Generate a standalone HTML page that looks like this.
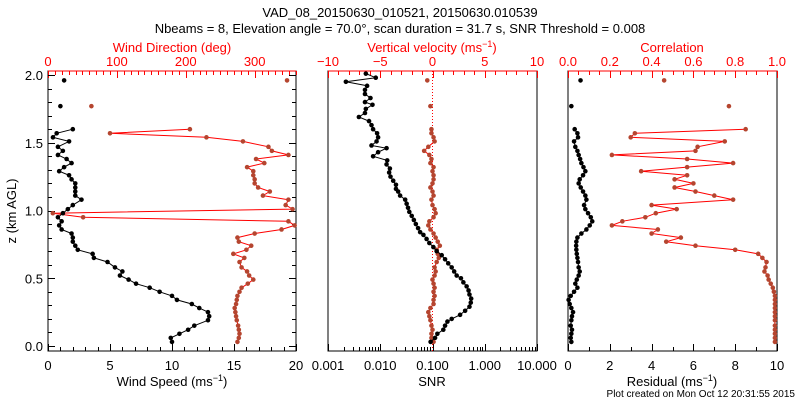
<!DOCTYPE html>
<html><head><meta charset="utf-8">
<style>
body{margin:0;background:#fff;}
svg{display:block;font-family:"Liberation Sans","DejaVu Sans",sans-serif;}
</style></head>
<body>
<svg id="chart" width="800" height="400" viewBox="0 0 800 400">
<text x="400" y="17" font-size="13" text-anchor="middle">VAD_08_20150630_010521, 20150630.010539</text>
<text x="400" y="33" font-size="13" text-anchor="middle">Nbeams = 8, Elevation angle = 70.0°, scan duration = 31.7 s, SNR Threshold = 0.008</text>
<text x="795" y="397" font-size="10" text-anchor="end">Plot created on Mon Oct 12 20:31:55 2015</text>
</svg>
<script>
// ---- data ----
const zA = [0.03,0.06,0.09,0.12,0.15,0.19,0.22,0.25,0.28,0.31,0.34,0.37,0.40,0.43,0.46,0.49,0.52,0.55,0.58,0.62,0.65,0.68,0.71,0.74,0.77,0.80,0.83,0.86,0.89,0.92,0.95,0.98,1.01,1.04,1.08,1.11,1.14,1.17,1.20,1.23,1.26,1.29,1.32,1.35,1.38,1.41,1.44,1.47,1.51,1.54,1.57,1.60];
const zExtra = [1.77,1.96];
const windSpeed = [10.0,9.9,10.6,11.3,11.8,12.9,13.0,12.9,12.2,11.6,10.4,10.0,9.0,8.2,7.1,6.5,5.8,6.0,5.4,4.8,3.7,3.6,2.4,2.2,2.0,2.0,1.9,1.1,0.9,1.1,0.8,1.2,1.6,2.0,2.7,2.2,2.2,2.2,2.2,1.9,1.7,0.9,1.3,1.9,1.5,0.8,1.2,0.8,1.7,0.4,0.7,2.0];
const windSpeedExtra = [1.0,1.3];
const windDir = [275,277,278,277,276,274,273,272,271,273,274,275,278,281,290,298,292,289,281,278,285,269,288,295,277,275,300,339,358,349,51,7,355,345,349,312,322,305,300,300,298,298,289,314,302,349,325,320,283,230,90,206];
const windDirExtra = [63,347];
const zB = [0.03,0.06,0.09,0.12,0.15,0.18,0.20,0.23,0.26,0.29,0.32,0.35,0.38,0.41,0.44,0.47,0.50,0.52,0.55,0.58,0.61,0.64,0.67,0.70,0.73,0.76,0.79,0.82,0.84,0.87,0.90,0.93,0.96,0.99,1.02,1.05,1.08,1.11,1.14,1.16,1.19,1.22,1.25,1.28,1.31,1.34,1.37,1.40,1.43,1.46,1.48,1.51,1.54,1.57,1.60,1.63,1.66,1.69,1.72,1.75,1.78,1.80,1.83,1.86,1.89,1.92,1.95,1.98,2.01];
const snr = [0.092,0.112,0.124,0.161,0.174,0.193,0.233,0.337,0.421,0.51,0.54,0.55,0.51,0.49,0.45,0.39,0.35,0.29,0.26,0.233,0.20,0.174,0.15,0.12,0.104,0.087,0.077,0.067,0.058,0.053,0.048,0.044,0.040,0.036,0.034,0.032,0.030,0.024,0.022,0.020,0.020,0.0177,0.0157,0.0148,0.0153,0.0132,0.0136,0.0073,0.0091,0.0132,0.0068,0.0085,0.0091,0.0087,0.0073,0.0068,0.0061,0.0039,0.0051,0.0053,0.0071,0.0051,0.0065,0.0051,0.0051,0.0056,0.0022,0.0082,0.0053];
const vertVel = [0.1,-0.1,-0.1,0,-0.1,-0.2,-0.3,-0.4,-0.2,0.1,0.1,0.2,0.1,0.2,0.1,0,0.2,0.3,0.2,0.4,0.6,0.5,0.4,0.7,0.5,0.3,0.1,-0.2,-0.4,-0.3,0.1,0.3,0.2,0,-0.1,0.1,0,-0.2,0,0.1,0.1,0,0.1,-0.2,-0.1,-0.3,-0.8,-0.4,0.2,0.1,-0.1,-0.1];
const vertVelExtra = [-0.2,-0.5];
const residual = [0.16,0.13,0.16,0.19,0.13,0.16,0.19,0.24,0.16,0.08,0.03,0.13,0.29,0.45,0.35,0.42,0.51,0.56,0.51,0.48,0.45,0.42,0.40,0.39,0.40,0.45,0.64,0.88,1.04,1.16,1.09,0.96,0.83,0.77,0.88,0.83,0.72,0.61,0.51,0.56,0.72,0.83,0.74,0.64,0.58,0.51,0.45,0.35,0.29,0.48,0.45,0.32];
const residualExtra = [0.16,0.6];
const correlation = [0.99,0.99,0.99,0.99,0.99,0.99,0.99,0.99,0.99,0.99,0.99,0.99,0.985,0.98,0.97,0.96,0.955,0.94,0.945,0.95,0.93,0.91,0.80,0.61,0.47,0.54,0.40,0.43,0.21,0.26,0.37,0.42,0.52,0.40,0.79,0.70,0.61,0.51,0.60,0.51,0.57,0.35,0.57,0.79,0.57,0.21,0.61,0.62,0.75,0.30,0.32,0.85];
const correlationExtra = [0.77,0.46];
const zTicks = ["0.0","0.5","1.0","1.5","2.0"];

// ---- drawing ----
const NS = "http://www.w3.org/2000/svg";
const svg = document.getElementById('chart');
const RED = "#ff0000", MRK = "#b5452f";
const TOP = 71, BOT = 351;
const yOf = z => 346 - z * 135.5;
function mk(tag, attrs, parent) {
  const e = document.createElementNS(NS, tag);
  for (const k in attrs) e.setAttribute(k, attrs[k]);
  (parent || svg).appendChild(e);
  return e;
}
function txt(x, y, s, color, anchor, size) {
  const t = mk('text', {x: x, y: y, 'font-size': size || 13, fill: color || '#000', 'text-anchor': anchor || 'middle'});
  t.textContent = s;
  return t;
}
const panels = [
  {x0: 48, x1: 296, name: 'wind'},
  {x0: 328, x1: 537, name: 'snr'},
  {x0: 568, x1: 777, name: 'correlation'}
];
panels.forEach(p => {
  const r = mk('rect', {x: p.x0, y: TOP, width: p.x1 - p.x0, height: BOT - TOP, fill: 'none', stroke: '#000', 'stroke-width': 1});
  
  
});
// top red axis line
panels.forEach(p => { mk('line', {x1: p.x0, x2: p.x1, y1: TOP, y2: TOP, stroke: RED}); });

function linAxis(p, lo, hi, major, minor, labels, top, color, labelFmt) {
  const g = mk('g', {});
  
  
  const sx = v => p.x0 + (v - lo) / (hi - lo) * (p.x1 - p.x0);
  for (let v = lo; v <= hi + 1e-9; v += minor) {
    const isMaj = Math.abs(Math.round((v - lo) / major) * major - (v - lo)) < 1e-6;
    const len = isMaj ? 7 : 4;
    const x = Math.round(sx(v)) + 0.5;
    if (top) mk('line', {x1: x, x2: x, y1: TOP, y2: TOP + len, stroke: color}, g);
    else mk('line', {x1: x, x2: x, y1: BOT, y2: BOT - len, stroke: color}, g);
  }
  labels.forEach(v => {
    const t = txt(sx(v), top ? 66 : 370, labelFmt ? labelFmt(v) : String(v), color);
    g.appendChild(t);
  });
  return sx;
}
function minus(v){ return String(v).replace('-', '\u2212'); }

// Panel 1
const sWS = linAxis(panels[0], 0, 20, 5, 1, [0,5,10,15,20], false, '#000');
const sWD = linAxis(panels[0], 0, 360, 100, 10, [0,100,200,300], true, RED);
// y axis ticks panel 1 (left and right)
const yAx = mk('g', {});


for (let i = 0; i <= 20; i++) {
  const z = i / 10, y = Math.round(yOf(z)) + 0.5, len = i % 5 === 0 ? 7 : 4;
  mk('line', {x1: 48, x2: 48 + len, y1: y, y2: y, stroke: '#000'}, yAx);
  mk('line', {x1: 296, x2: 296 - len, y1: y, y2: y, stroke: '#000'}, yAx);
}
zTicks.forEach(s => { yAx.appendChild(txt(43, yOf(parseFloat(s)) + 5, s, '#000', 'end')); });

// Panel 2
const sW = linAxis(panels[1], -10, 10, 5, 1, [-10,-5,0,5,10], true, RED, minus);
const p2 = panels[1];
const sSNR = v => p2.x0 + (Math.log10(v) + 3) / 4 * (p2.x1 - p2.x0);
const snrAx = mk('g', {});


for (let d = -3; d <= 1; d++) {
  for (let m = 1; m <= 9; m++) {
    if (d === 1 && m > 1) break;
    const x = Math.round(sSNR(m * Math.pow(10, d))) + 0.5;
    mk('line', {x1: x, x2: x, y1: BOT, y2: BOT - (m === 1 ? 7 : 4), stroke: '#000'}, snrAx);
  }
}
["0.001","0.010","0.100","1.000","10.000"].forEach(s => snrAx.appendChild(txt(sSNR(parseFloat(s)), 370, s)));

// Panel 3
const sRes = linAxis(panels[2], 0, 10, 2, 1, [0,2,4,6,8,10], false, '#000');
const sCor = linAxis(panels[2], 0, 1, 0.2, 0.05, [0,0.2,0.4,0.6,0.8,1], true, RED, v => v.toFixed(1));

// axis titles
function title(x, y, html, color, name) {
  const t = mk('text', {x: x, y: y, 'font-size': 13, fill: color, 'text-anchor': 'middle'});
  t.innerHTML = html;
  
  
}
const SUP = '(ms<tspan dy="-5" font-size="9">\u22121</tspan><tspan dy="5">)</tspan>';
title(172, 386, 'Wind Speed ' + SUP, '#000', 'x-axis-title-wind-speed');
title(172, 52, 'Wind Direction (deg)', RED, 'top-axis-title-wind-direction');
title(432, 52, 'Vertical velocity ' + SUP, RED, 'top-axis-title-vertical-velocity');
title(432, 386, 'SNR', '#000', 'x-axis-title-snr');
title(672, 386, 'Residual ' + SUP, '#000', 'x-axis-title-residual');
title(672, 52, 'Correlation', RED, 'top-axis-title-correlation');
const yt = mk('text', {x: 0, y: 0, 'font-size': 13, 'text-anchor': 'middle', transform: 'translate(16,211) rotate(-90)'});
yt.textContent = 'z (km AGL)';



// zero line panel 2
const zl = mk('line', {x1: sW(0), x2: sW(0), y1: TOP, y2: BOT, stroke: RED, 'stroke-dasharray': '1,2'});



function series(name, zs, vals, sx, lineColor, mColor, extraZ, extraV) {
  const g = mk('g', {});
  
  
  const pts = vals.map((v, i) => sx(v).toFixed(1) + ',' + yOf(zs[i]).toFixed(1)).join(' ');
  mk('polyline', {points: pts, fill: 'none', stroke: lineColor, 'stroke-width': 1}, g);
  vals.forEach((v, i) => {
    const c = mk('circle', {cx: sx(v), cy: yOf(zs[i]), r: 2.3, fill: mColor}, g);
    
    
  });
  if (extraV) extraV.forEach((v, i) => {
    const c = mk('circle', {cx: sx(v), cy: yOf(extraZ[i]), r: 2.3, fill: mColor}, g);
    
    
  });
}
series('wind-direction-series', zA, windDir, sWD, RED, MRK, zExtra, windDirExtra);
series('wind-speed-series', zA, windSpeed, sWS, '#000', '#000', zExtra, windSpeedExtra);
series('vertical-velocity-series', zA, vertVel, sW, RED, MRK, zExtra, vertVelExtra);
series('snr-series', zB, snr, sSNR, '#000', '#000');
series('correlation-series', zA, correlation, sCor, RED, MRK, zExtra, correlationExtra);
series('residual-series', zA, residual, sRes, '#000', '#000', zExtra, residualExtra);
</script>
</body></html>
